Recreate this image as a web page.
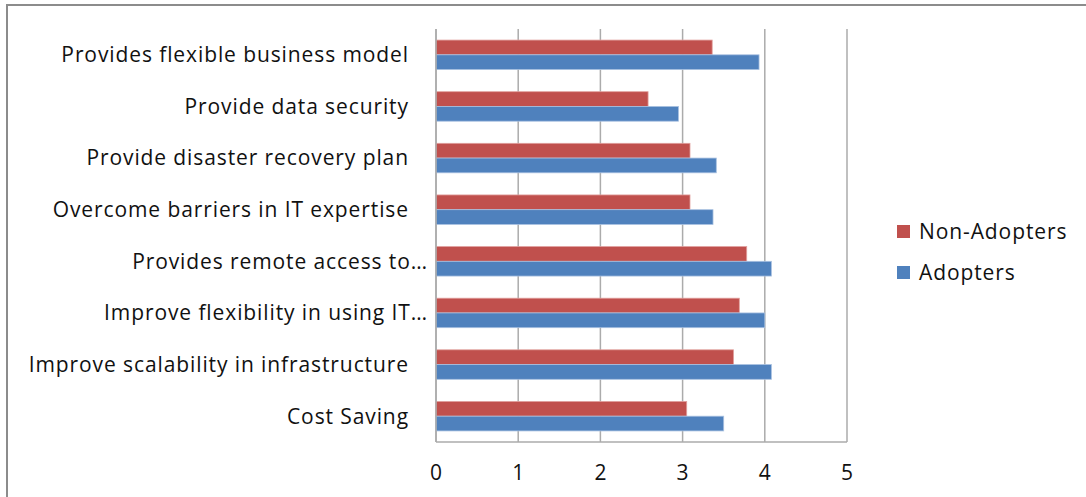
<!DOCTYPE html>
<html>
<head>
<meta charset="utf-8">
<script src="https://cdn.jsdelivr.net/npm/d3@7"></script>
<style>
  html, body { margin: 0; padding: 0; background: #fff; }
  svg { display: block; font-family: "Open Sans", Lato, sans-serif; }
  .cat { white-space: pre; }
</style>
</head>
<body>
<div id="chart"></div>
<script>
// Categories from top to bottom; trailing spaces are part of the original labels
const categories = [
  "Provides flexible business model   ",
  "Provide data security   ",
  "Provide disaster recovery plan   ",
  "Overcome barriers in IT expertise   ",
  "Provides remote access to\u2026",
  "Improve flexibility in using IT\u2026",
  "Improve scalability in infrastructure   ",
  "Cost Saving   ",
];
const seriesNames = ["Non-Adopters", "Adopters"];
const nonAdopters = [3.36, 2.58, 3.09, 3.09, 3.78, 3.69, 3.62, 3.05];
const adopters = [3.93, 2.95, 3.41, 3.37, 4.08, 4.0, 4.08, 3.5];
const xTicks = [0, 1, 2, 3, 4, 5];

const config = {
  WIDTH: 1086,
  HEIGHT: 497,
  PLOT: { left: 436, right: 847, top: 29, bottom: 442 },
  COLORS: ["#C0504D", "#4F81BD"],
  EDGES: ["#E0A09E", "#A9C1E0"],
  GRID: "#ABABAB",
  GAP: 1.5, // Excel gap width, relative to one bar
  FONT_SIZE: 21,
  LETTER_SPACING: 0.9, // the source text is slightly stretched
};

const svg = d3
  .select("#chart")
  .append("svg")
  .attr("width", config.WIDTH)
  .attr("height", config.HEIGHT);

// Chart area border (runs off the right and bottom of the picture)
svg
  .append("rect")
  .attr("x", 7)
  .attr("y", 5)
  .attr("width", config.WIDTH)
  .attr("height", config.HEIGHT)
  .attr("fill", "#fff")
  .attr("stroke", "#8c8c8c")
  .attr("stroke-width", 2);

const x = d3
  .scaleLinear()
  .domain([0, 5])
  .range([config.PLOT.left, config.PLOT.right]);

const pad = config.GAP / (2 + config.GAP);
const y = d3
  .scaleBand()
  .domain(categories)
  .range([config.PLOT.top, config.PLOT.bottom])
  .paddingInner(pad)
  .paddingOuter(pad / 2);

const inner = d3
  .scaleBand()
  .domain(seriesNames)
  .range([0, y.bandwidth()]);

// Vertical gridlines
svg
  .append("g")
  .attr("stroke", config.GRID)
  .attr("stroke-width", 1.5)
  .selectAll("line")
  .data(xTicks)
  .join("line")
  .attr("x1", (d) => x(d))
  .attr("x2", (d) => x(d))
  .attr("y1", config.PLOT.top)
  .attr("y2", config.PLOT.bottom);

// Bars
const rows = categories.map((c, i) => ({
  c,
  values: [
    { s: seriesNames[0], v: nonAdopters[i], k: 0 },
    { s: seriesNames[1], v: adopters[i], k: 1 },
  ],
}));

svg
  .append("g")
  .selectAll("g")
  .data(rows)
  .join("g")
  .attr("transform", (d) => `translate(0,${y(d.c)})`)
  .selectAll("rect")
  .data((d) => d.values)
  .join("rect")
  .attr("x", x(0))
  .attr("y", (d) => inner(d.s))
  .attr("width", (d) => x(d.v) - x(0))
  .attr("height", inner.bandwidth())
  .attr("fill", (d) => config.COLORS[d.k])
  .attr("stroke", (d) => config.EDGES[d.k])
  .attr("stroke-width", 0.8);

// Axis lines
const axes = svg.append("g").attr("stroke", config.GRID).attr("stroke-width", 1.5);
axes
  .append("line")
  .attr("x1", x(0))
  .attr("x2", x(5))
  .attr("y1", config.PLOT.bottom)
  .attr("y2", config.PLOT.bottom);
axes
  .append("line")
  .attr("x1", x(0))
  .attr("x2", x(0))
  .attr("y1", config.PLOT.top)
  .attr("y2", config.PLOT.bottom);

// X tick labels
svg
  .append("g")
  .attr("font-size", config.FONT_SIZE)
  .attr("fill", "#111")
  .attr("text-anchor", "middle")
  .selectAll("text")
  .data(xTicks)
  .join("text")
  .attr("x", (d) => x(d))
  .attr("y", 480)
  .text((d) => d);

// Category labels
svg
  .append("g")
  .attr("font-size", config.FONT_SIZE)
  .attr("letter-spacing", config.LETTER_SPACING)
  .attr("fill", "#111")
  .attr("text-anchor", "end")
  .selectAll("text")
  .data(categories)
  .join("text")
  .attr("class", "cat")
  .attr("x", x(0) - 8)
  .attr("y", (d) => y(d) + y.bandwidth() / 2)
  .attr("dy", "0.35em")
  .text((d) => d);

// Legend
const legend = svg
  .append("g")
  .attr("transform", "translate(897,225)")
  .selectAll("g")
  .data(seriesNames)
  .join("g")
  .attr("transform", (d, i) => `translate(0,${i * 41})`);

legend
  .append("rect")
  .attr("width", 13)
  .attr("height", 13)
  .attr("fill", (d, i) => config.COLORS[i]);

legend
  .append("text")
  .attr("x", 22)
  .attr("y", 6.5)
  .attr("dy", "0.35em")
  .attr("font-size", config.FONT_SIZE)
  .attr("letter-spacing", config.LETTER_SPACING)
  .attr("fill", "#111")
  .text((d) => d);
</script>
</body>
</html>
